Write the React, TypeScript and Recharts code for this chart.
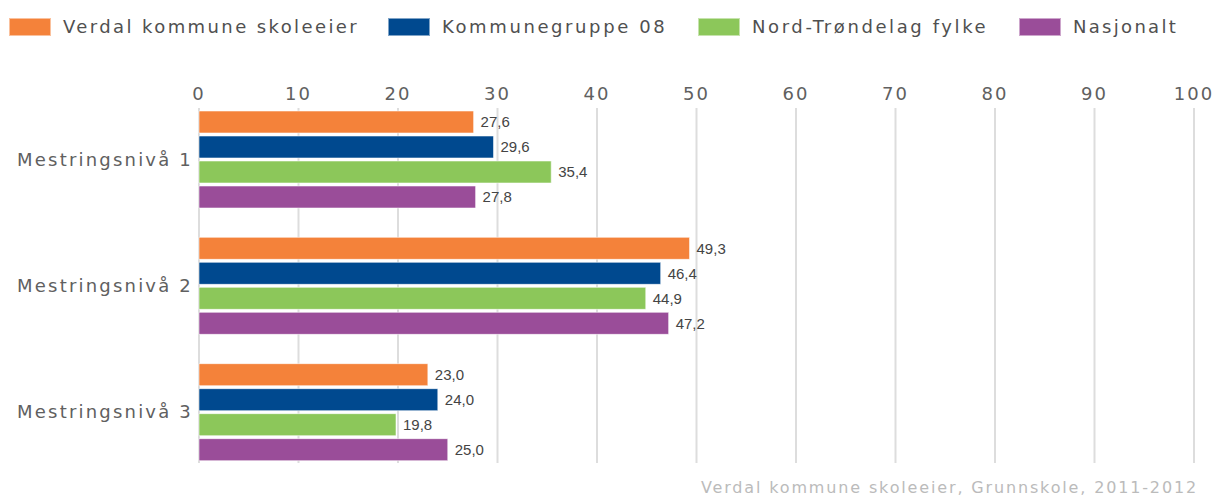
import React from "react";
import { BarChart, Bar, XAxis, YAxis, CartesianGrid, LabelList } from "recharts";

const categories = ["Mestringsnivå 1", "Mestringsnivå 2", "Mestringsnivå 3"];
const seriesNames = ["Verdal kommune skoleeier", "Kommunegruppe 08", "Nord-Trøndelag fylke", "Nasjonalt"];
const verdal = [27.6, 49.3, 23.0];
const kommunegruppe = [29.6, 46.4, 24.0];
const fylke = [35.4, 44.9, 19.8];
const nasjonalt = [27.8, 47.2, 25.0];
const xTicks = [0, 10, 20, 30, 40, 50, 60, 70, 80, 90, 100];
const colors = ["#F4823A", "#00498F", "#8CC75A", "#9A4D99"];
const footer = "Verdal kommune skoleeier, Grunnskole, 2011-2012";

const keys = ["s0", "s1", "s2", "s3"];
const seriesValues = [verdal, kommunegruppe, fylke, nasjonalt];
const data = categories.map((name, i) => {
  const row: any = { name };
  keys.forEach((k, j) => (row[k] = seriesValues[j][i]));
  return row;
});

const FONT = "'DejaVu Sans', Verdana, sans-serif";
const legendLeft = [9, 388, 698, 1019];
const legendSpacing = [2.4, 2.6, 2.6, 2.3];

const fmt = (v: any) => Number(v).toFixed(1).replace(".", ",");

export default function App() {
  return (
    <div style={{ position: "relative", width: 1217, height: 497, background: "#fff", fontFamily: FONT }}>
      <style>{`body{margin:0}`}</style>
      {seriesNames.map((n, i) => (
        <div key={n} style={{ position: "absolute", left: legendLeft[i], top: 18, display: "flex", alignItems: "center", height: 18 }}>
          <div style={{ width: 42, height: 18, background: colors[i], boxSizing: "border-box", border: "1px solid rgba(255,255,255,0.5)" }} />
          <span style={{ marginLeft: 12, fontSize: 18, letterSpacing: legendSpacing[i], color: "#505050", lineHeight: "18px", whiteSpace: "nowrap" }}>{n}</span>
        </div>
      ))}
      <div style={{ position: "absolute", left: 0, top: 0 }}>
        <BarChart
          width={1217}
          height={497}
          data={data}
          layout="vertical"
          margin={{ top: 78, right: 23, bottom: 34, left: 0 }}
          barSize={22}
          barGap={3}
        >
          <CartesianGrid horizontal={false} stroke="#dddddd" strokeWidth={2} />
          <XAxis
            type="number"
            orientation="top"
            domain={[0, 100]}
            ticks={xTicks}
            axisLine={false}
            tickLine={false}
            interval={0}
            tick={{ fill: "#606060", fontSize: 18, fontFamily: FONT, letterSpacing: 2 }}
          />
          <YAxis
            type="category"
            dataKey="name"
            width={199}
            axisLine={false}
            tickLine={false}
            tickSize={0}
            tickMargin={6}
            padding={{ top: -12, bottom: -12 }}
            tick={{ fill: "#606060", fontSize: 18, fontFamily: FONT, letterSpacing: 2.2 }}
          />
          {keys.map((k, i) => (
            <Bar key={k} dataKey={k} name={seriesNames[i]} fill={colors[i]} stroke="rgba(255,255,255,0.55)" strokeWidth={1} isAnimationActive={false}>
              <LabelList
                dataKey={k}
                position="right"
                offset={7}
                formatter={fmt}
                style={{ fill: "#444", fontSize: 15, fontFamily: "'Liberation Sans', Arial, sans-serif" }}
              />
            </Bar>
          ))}
        </BarChart>
      </div>
      <div style={{ position: "absolute", right: 19, top: 479, fontSize: 16, letterSpacing: 1.85, color: "#bbb", whiteSpace: "nowrap", lineHeight: "18px" }}>
        {footer}
      </div>
    </div>
  );
}
